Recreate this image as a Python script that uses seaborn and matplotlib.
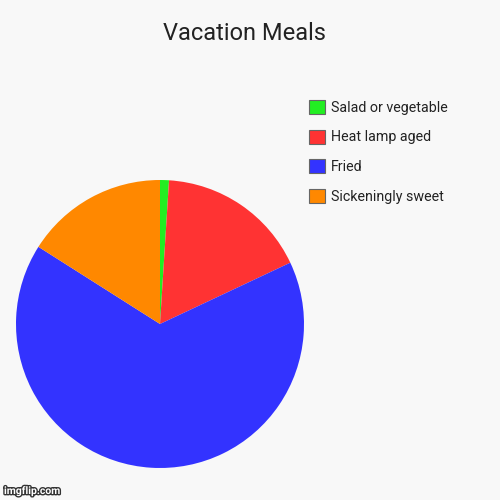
import matplotlib.pyplot as plt
import matplotlib.patheffects as pe
import seaborn as sns

# --- Data ---
categories = ["Salad or vegetable", "Heat lamp aged", "Fried", "Sickeningly sweet"]
values = [1, 17, 66, 16]
colors = ["#22ee22", "#ff3333", "#3333ff", "#ff8800"]

sns.set_theme(style="white")
plt.rcParams["font.family"] = ["Roboto", "DejaVu Sans"]

fig = plt.figure(figsize=(5, 5), dpi=100)
fig.patch.set_facecolor("#f8f8f8")

# pie area: center (160, 324) px, radius 144 px
ax = fig.add_axes([16 / 500, 32 / 500, 288 / 500, 288 / 500])
ax.set_facecolor("#f8f8f8")
wedges, _ = ax.pie(
    values,
    colors=colors,
    startangle=90,
    counterclock=False,
    radius=1,
    wedgeprops={"linewidth": 0},
)
ax.set_xlim(-1, 1)
ax.set_ylim(-1, 1)
ax.set_aspect("equal")
ax.axis("off")

fig.text(0.488, 0.934, "Vacation Meals", ha="center", va="center", fontsize=17, color="#222222")

leg = fig.legend(
    wedges,
    categories,
    loc="upper left",
    bbox_to_anchor=(309 / 500, 1 - 100 / 500),
    frameon=False,
    fontsize=10.3,
    labelspacing=1.02,
    handlelength=1.15,
    handleheight=1.15,
    handletextpad=0.4,
    borderpad=0,
    borderaxespad=0,
)
for text in leg.get_texts():
    text.set_color("#222222")
for patch in leg.get_patches():
    patch.set_edgecolor("#666666")
    patch.set_linewidth(0.8)

fig.text(
    0.008, 0.012, "imgflip.com", fontsize=7.5, color="white", fontweight="bold",
    path_effects=[pe.withStroke(linewidth=2, foreground="#333333")],
)

fig.savefig("out.png", dpi=100, facecolor=fig.get_facecolor())
